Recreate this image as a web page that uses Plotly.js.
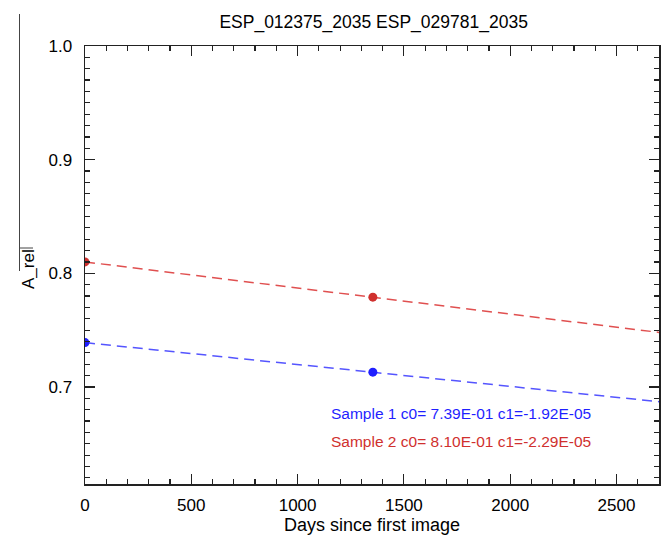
<!DOCTYPE html>
<html>
<head>
<meta charset="utf-8">
<script src="https://cdn.plot.ly/plotly-3.0.1.min.js"></script>
<style>html,body{margin:0;padding:0;background:#fff;}#chart{width:662px;height:535px;}</style>
</head>
<body>
<div id="chart"></div>
<script>
// ---- data ----
const days = [0, 1354];
const sample1 = [0.739, 0.713];
const sample2 = [0.810, 0.779];
const fitDays = [0, 2700];
const fit1 = [0.739, 0.687];
const fit2 = [0.810, 0.748];
const labelText = [
  "Sample 1 c0= 7.39E-01 c1=-1.92E-05",
  "Sample 2 c0= 8.10E-01 c1=-2.29E-05"
];
const labelPos = [0.6767, 0.652];
const yTickVals = [0.7, 0.8, 0.9, 1.0];
const yTickText = ["0.7", "0.8", "0.9", "1.0"];
const xTickVals = [0, 500, 1000, 1500, 2000, 2500];
const xTickText = ["0", "500", "1000", "1500", "2000", "2500"];

const blue = '#1f1fff', blueLine = '#5555ff';
const red = '#d0302e', redLine = '#e05050';
const FONT = 'Liberation Sans, Arial, Helvetica, sans-serif';

const traces = [
  {x: fitDays, y: fit1, mode: 'lines', line: {color: blueLine, width: 1.5, dash: '10px,6px'}, hoverinfo: 'skip'},
  {x: fitDays, y: fit2, mode: 'lines', line: {color: redLine, width: 1.5, dash: '10px,6px'}, hoverinfo: 'skip'},
  {x: days, y: sample1, mode: 'markers', marker: {color: blue, size: 9}},
  {x: days, y: sample2, mode: 'markers', marker: {color: red, size: 9}}
];

const axisCommon = {
  showgrid: false, zeroline: false, showline: true, linecolor: '#222', linewidth: 1.5,
  ticks: 'inside', ticklen: 10, tickwidth: 1.2, tickcolor: '#222', mirror: 'allticks',
  tickfont: {family: FONT, size: 17, color: '#000'}
};

const layout = {
  width: 662, height: 535,
  margin: {l: 85, r: 3, t: 46, b: 51},
  paper_bgcolor: '#fff', plot_bgcolor: '#fff',
  showlegend: false,
  font: {family: FONT, color: '#000'},
  title: {text: 'ESP_012375_2035 ESP_029781_2035', font: {family: FONT, size: 17.5, color: '#000'},
          x: 0.5644, xanchor: 'center', y: 0.959, yanchor: 'middle'},
  xaxis: Object.assign({}, axisCommon, {
    range: [0, 2700], tickmode: 'array', tickvals: xTickVals, ticktext: xTickText,
    minor: {dtick: 100, tick0: 0, ticks: 'inside', ticklen: 5, tickcolor: '#222', tickwidth: 1.2},
    ticklabelstandoff: 5,
    title: {text: 'Days since first image', font: {family: FONT, size: 18, color: '#000'}, standoff: 4}
  }),
  yaxis: Object.assign({}, axisCommon, {
    range: [0.6146, 1.0], tickmode: 'array', tickvals: yTickVals, ticktext: yTickText,
    minor: {dtick: 0.01, tick0: 0, ticks: 'inside', ticklen: 5, tickcolor: '#222', tickwidth: 1.2},
    ticklabelstandoff: 8
  }),
  annotations: [
    {x: 1150, y: labelPos[0], xref: 'x', yref: 'y', text: labelText[0], showarrow: false,
     xanchor: 'left', yanchor: 'middle', font: {family: FONT, size: 15.5, color: blue}},
    {x: 1150, y: labelPos[1], xref: 'x', yref: 'y', text: labelText[1], showarrow: false,
     xanchor: 'left', yanchor: 'middle', font: {family: FONT, size: 15.5, color: red}},
    {x: (28 - 85) / 574, y: (484 - 269) / 438, xref: 'paper', yref: 'paper', text: 'A_rel',
     textangle: -90, showarrow: false, xanchor: 'center', yanchor: 'middle',
     font: {family: FONT, size: 17, color: '#000'}}
  ],
  shapes: [
    {type: 'line', xref: 'paper', yref: 'paper', x0: (19.5 - 85) / 574, x1: (19.5 - 85) / 574,
     y0: (484 - 14) / 438, y1: (484 - 271) / 438, line: {color: '#444', width: 1}},
    {type: 'line', xref: 'paper', yref: 'paper', x0: (19.5 - 85) / 574, x1: (33 - 85) / 574,
     y0: (484 - 248) / 438, y1: (484 - 248) / 438, line: {color: '#444', width: 1}}
  ]
};

Plotly.newPlot('chart', traces, layout, {displayModeBar: false, staticPlot: true});
</script>
</body>
</html>
